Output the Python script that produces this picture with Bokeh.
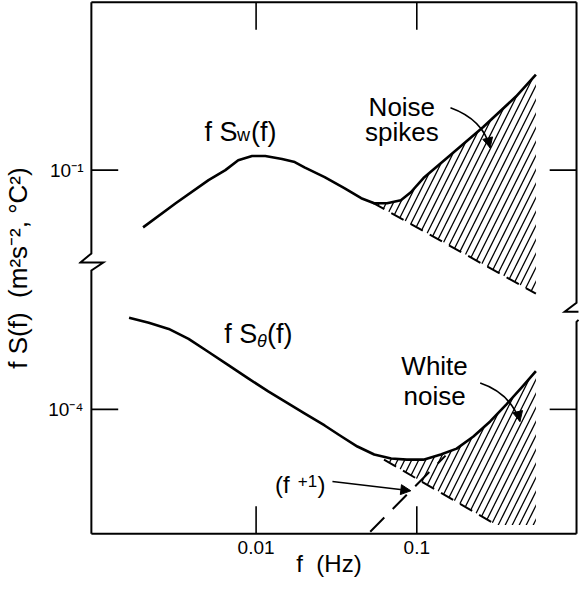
import numpy as np
from bokeh.plotting import figure
from bokeh.models import Range1d, FixedTicker, Arrow, NormalHead
from bokeh.core.properties import value
from bokeh.embed import file_html
from bokeh.resources import INLINE

# ---------------- data ----------------
FREQ_TICKS = [0.01, 0.1]
FREQ_TICK_LABELS = ["0.01", "0.1"]
Y_TICK_VALUES = [1e-1, 1e-4]          # upper panel, lower panel
Y_TICK_LABELS = ["10⁻¹", "10⁻⁴"]

# f S_w(f)  (upper panel)
f_w = [0.00198, 0.00316, 0.00506, 0.00644, 0.00774, 0.00944, 0.0114, 0.0145,
       0.0174, 0.0200, 0.0267, 0.0354, 0.0451, 0.0543, 0.0653, 0.0796, 0.0918,
       0.110, 0.162, 0.259, 0.414, 0.551]
fS_w = [0.0445, 0.0625, 0.0868, 0.100, 0.115, 0.122, 0.122, 0.117,
        0.112, 0.104, 0.0905, 0.0774, 0.0672, 0.0625, 0.0625, 0.0653, 0.0731,
        0.0893, 0.124, 0.184, 0.283, 0.386]

# f S_theta(f)  (lower panel)
f_theta = [0.00162, 0.00215, 0.00286, 0.00380, 0.00506, 0.00672, 0.00893, 0.0119,
           0.0158, 0.0200, 0.0267, 0.0340, 0.0427, 0.0543, 0.0692, 0.0867, 0.110,
           0.141, 0.177, 0.225, 0.286, 0.360, 0.457, 0.551]
fS_theta = [3.65e-4, 3.40e-4, 3.12e-4, 2.71e-4, 2.25e-4, 1.87e-4, 1.55e-4, 1.29e-4,
            1.09e-4, 9.45e-5, 7.96e-5, 6.81e-5, 5.91e-5, 5.28e-5, 4.99e-5, 4.91e-5, 4.91e-5,
            5.28e-5, 5.74e-5, 6.81e-5, 8.43e-5, 1.07e-4, 1.39e-4, 1.72e-4]

# noise floors (lower edges of the hatched areas)
spike_floor_f = [0.0527, 0.551]
spike_floor_fS = [0.0633, 0.0174]
white_floor_f = [0.0625, 0.312]
white_floor_fS = [4.91e-5, 1.95e-5]

# f^+1 reference line
fplus1_f = [0.0513, 0.151]
fplus1_fS = [1.77e-5, 5.20e-5]

# ---------------- layout helpers ----------------
LOWER_SHIFT = 1.53            # decades the lower panel is shifted up (axis break)
FONT = value("Liberation Sans")


def y_up(v):
    return np.log10(np.asarray(v, dtype=float))


def y_lo(v):
    return np.log10(np.asarray(v, dtype=float)) + LOWER_SHIFT


X_START, X_END = 0.000785, 1.029
Y_START, Y_END = -3.245, 0.042
BOX_L, BOX_R = 0.000944, 0.986
BOX_T, BOX_B = 0.032, -3.235
TICK_X = 10 ** 0.167
TICK_Y = 0.169

y_ticks = [float(y_up(Y_TICK_VALUES[0])), float(y_lo(Y_TICK_VALUES[1]))]

p = figure(width=579, height=579, x_axis_type="log",
           x_range=Range1d(X_START, X_END), y_range=Range1d(Y_START, Y_END),
           output_backend="svg", toolbar_location=None,
           min_border_left=74, min_border_right=0, min_border_top=0, min_border_bottom=0)
p.outline_line_color = None
p.grid.visible = False
p.background_fill_color = "white"

# x axis (labels only; frame and ticks drawn below)
xa = p.xaxis[0]
xa.ticker = FixedTicker(ticks=FREQ_TICKS)
xa.major_label_overrides = dict(zip(FREQ_TICKS, FREQ_TICK_LABELS))
xa.axis_line_color = None
xa.major_tick_line_color = None
xa.minor_tick_line_color = None
xa.major_tick_in = 0
xa.major_tick_out = 0
xa.major_label_standoff = 5
xa.major_label_text_font = "Liberation Sans"
xa.major_label_text_font_size = "19px"
xa.major_label_text_color = "black"
xa.axis_label = "f\u00a0\u00a0(Hz)"
xa.axis_label_text_font = "Liberation Sans"
xa.axis_label_text_font_size = "24px"
xa.axis_label_text_font_style = "normal"
xa.axis_label_standoff = -7
xa.axis_label_text_color = "black"

ya = p.yaxis[0]
ya.ticker = FixedTicker(ticks=y_ticks)
ya.major_label_overrides = dict(zip(y_ticks, Y_TICK_LABELS))
ya.axis_line_color = None
ya.major_tick_line_color = None
ya.minor_tick_line_color = None
ya.major_tick_in = 0
ya.major_tick_out = 0
ya.major_label_standoff = -5
ya.major_label_text_font = "Liberation Sans"
ya.major_label_text_font_size = "19px"
ya.major_label_text_color = "black"
ya.axis_label = "f S(f)\u00a0\u00a0(m²s⁻², °C²)"
ya.axis_label_text_font = "Liberation Sans"
ya.axis_label_text_font_size = "26px"
ya.axis_label_text_font_style = "normal"
ya.axis_label_standoff = 12
ya.axis_label_text_color = "black"

# ---------------- hatched noise areas ----------------
fw = np.array(f_w)
sw = np.array(fS_w)
m = fw > spike_floor_f[0]
up_x = [spike_floor_f[0]] + list(fw[m]) + [spike_floor_f[1]]
up_y = [float(y_up(spike_floor_fS[0]))] + list(y_up(sw[m])) + [float(y_up(spike_floor_fS[1]))]
p.patch(up_x, up_y, fill_color="white", fill_alpha=0, line_alpha=0,
        hatch_pattern="/", hatch_scale=14, hatch_weight=1.3, hatch_color="black")

ft = np.array(f_theta)
st = np.array(fS_theta)
m2 = ft > white_floor_f[0]
lo_x = [white_floor_f[0]] + list(ft[m2]) + [ft[-1], white_floor_f[1]]
lo_y = ([float(y_lo(white_floor_fS[0]))] + list(y_lo(st[m2]))
        + [float(y_lo(white_floor_fS[1])), float(y_lo(white_floor_fS[1]))])
p.patch(lo_x, lo_y, fill_color="white", fill_alpha=0, line_alpha=0,
        hatch_pattern="/", hatch_scale=14, hatch_weight=1.3, hatch_color="black")

p.line(spike_floor_f, y_up(spike_floor_fS), line_color="black", line_width=2, line_dash="14 8")
p.line(white_floor_f, y_lo(white_floor_fS), line_color="black", line_width=2, line_dash="14 8")

# ---------------- spectra ----------------
p.line(f_w, y_up(fS_w), line_color="black", line_width=2.6, line_join="round")
p.line(f_theta, y_lo(fS_theta), line_color="black", line_width=2.6, line_join="round")
p.line(fplus1_f, y_lo(fplus1_fS), line_color="black", line_width=2, line_dash="20 12")

# ---------------- frame with axis breaks ----------------
bx1, bx2, bx3 = 0.000807, 0.00112, 0.832
bx4 = 1.014
frame_xs = [
    [BOX_L, BOX_L, bx1, bx2, BOX_L, BOX_L],
    [BOX_R, BOX_R, bx3, bx4],
    [bx4, BOX_R, BOX_R],
    [BOX_L, BOX_R],
    [BOX_L, BOX_R],
]
frame_ys = [
    [BOX_T, -1.512, -1.568, -1.568, -1.617, BOX_B],
    [BOX_T, -1.815, -1.870, -1.870],
    [-1.920, -1.932, BOX_B],
    [BOX_T, BOX_T],
    [BOX_B, BOX_B],
]
p.multi_line(frame_xs, frame_ys, line_color="black", line_width=2, line_join="miter")

# ticks (inward)
tx0, ty0, tx1, ty1 = [], [], [], []
for xt in FREQ_TICKS:
    tx0 += [xt, xt]
    tx1 += [xt, xt]
    ty0 += [BOX_T, BOX_B]
    ty1 += [BOX_T - TICK_Y, BOX_B + TICK_Y]
for yt in y_ticks:
    tx0 += [BOX_L, BOX_R]
    tx1 += [BOX_L * TICK_X, BOX_R / TICK_X]
    ty0 += [yt, yt]
    ty1 += [yt, yt]
p.segment(tx0, ty0, tx1, ty1, line_color="black", line_width=1.6)

# ---------------- labels ----------------
p.text(x=[0.00477, 0.00931], y=y_up([0.172, 0.172]), text=["f S", "(f)"],
       text_font=FONT, text_font_size="27px", text_align="left",
       text_baseline="alphabetic", text_color="black")
p.text(x=[0.00761], y=y_up([0.164]), text=["w"],
       text_font=FONT, text_font_size="18px", text_align="left",
       text_baseline="alphabetic", text_color="black")

p.text(x=[0.00633, 0.01169], y=y_lo([2.90e-4, 2.90e-4]), text=["f S", "(f)"],
       text_font=FONT, text_font_size="27px", text_align="left",
       text_baseline="alphabetic", text_color="black")
p.text(x=[0.01014], y=y_lo([2.63e-4]), text=["θ"],
       text_font=FONT, text_font_size="18px", text_font_style="italic",
       text_align="left", text_baseline="alphabetic", text_color="black")

p.text(x=[0.0807, 0.0807], y=y_up([0.245, 0.172]), text=["Noise", "spikes"],
       text_font=FONT, text_font_size="26px", text_align="center",
       text_baseline="alphabetic", text_color="black")
p.text(x=[0.129, 0.129], y=y_lo([1.84e-4, 1.20e-4]), text=["White", "noise"],
       text_font=FONT, text_font_size="26px", text_align="center",
       text_baseline="alphabetic", text_color="black")

# (f^+1) label: base text and raised exponent
p.text(x=[0.01309, 0.0241], y=y_lo([3.44e-5, 3.44e-5]), text=["(f", ")"],
       text_font=FONT, text_font_size="24px", text_align="left",
       text_baseline="alphabetic", text_color="black")
p.text(x=[0.01815], y=y_lo([3.65e-5]), text=["+1"],
       text_font=FONT, text_font_size="17px", text_align="left",
       text_baseline="alphabetic", text_color="black")

# ---------------- arrows ----------------
p.quadratic(x0=[0.162], y0=y_up([0.2415]), x1=[0.286], y1=y_up([0.137]),
            cx=[0.259], cy=y_up([0.204]), line_color="black", line_width=1.6)
p.add_layout(Arrow(end=NormalHead(size=10, fill_color="black", line_color="black"),
                   x_start=0.278, y_start=float(y_up(0.153)),
                   x_end=0.286, y_end=float(y_up(0.137)),
                   line_color="black", line_width=1.6))

p.quadratic(x0=[0.248], y0=y_lo([1.45e-4]), x1=[0.4385], y1=y_lo([8.43e-5]),
            cx=[0.380], cy=y_lo([1.26e-4]), line_color="black", line_width=1.6)
p.add_layout(Arrow(end=NormalHead(size=10, fill_color="black", line_color="black"),
                   x_start=0.4266, y_start=float(y_lo(9.45e-5)),
                   x_end=0.4385, y_end=float(y_lo(8.43e-5)),
                   line_color="black", line_width=1.6))

p.add_layout(Arrow(end=NormalHead(size=10, fill_color="black", line_color="black"),
                   x_start=0.02985, y_start=float(y_lo(3.60e-5)),
                   x_end=0.0918, y_end=float(y_lo(3.16e-5)),
                   line_color="black", line_width=1.6))

open("out.html", "w").write(file_html(p, INLINE))
